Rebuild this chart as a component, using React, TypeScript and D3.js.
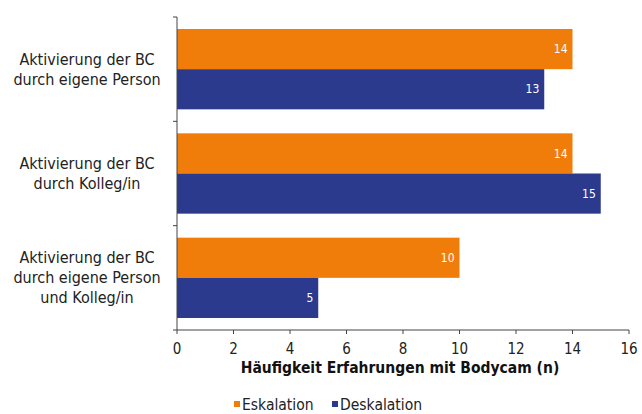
import React from "react";
import * as d3 from "d3";

const categories = [
  ["Aktivierung der BC", "durch eigene Person"],
  ["Aktivierung der BC", "durch Kolleg/in"],
  ["Aktivierung der BC", "durch eigene Person", "und Kolleg/in"],
];
const seriesNames = ["Eskalation", "Deskalation"];
const eskalation = [14, 14, 10];
const deskalation = [13, 15, 5];
const xTicks = [0, 2, 4, 6, 8, 10, 12, 14, 16];
const colors = ["#F07D0A", "#2C3A8E"];

const W = 642, H = 414;
const M = { left: 177, right: 13, top: 17, bottom: 84 };
const FONT = "'DejaVu Sans Condensed', 'Liberation Sans Narrow', sans-serif";

export default function App() {
  const x = d3.scaleLinear().domain([0, 16]).range([M.left, W - M.right]);
  const idx = categories.map((_, i) => String(i));
  const y = d3.scaleBand().domain(idx).range([M.top, H - M.bottom]).paddingInner(0.23).paddingOuter(0.115);
  const inner = d3.scaleBand().domain(seriesNames).range([0, y.bandwidth()]);
  const step = y.step();
  const bandTicks = d3.range(categories.length + 1).map((i) => M.top + i * step);
  const series = [eskalation, deskalation];
  const axisY = H - M.bottom;

  return (
    <svg width={W} height={H} style={{ position: "absolute", left: 0, top: 0, background: "#fff" }} fontFamily={FONT}>
      {series.map((vals, s) =>
        vals.map((v, i) => {
          const y0 = (y(String(i)) as number) + (inner(seriesNames[s]) as number);
          return (
            <g key={`${s}-${i}`}>
              <rect x={x(0)} y={y0} width={x(v) - x(0)} height={inner.bandwidth()} fill={colors[s]} />
              <text x={x(v) - 5} y={y0 + inner.bandwidth() / 2} dy="0.35em" textAnchor="end" fill="#fff" fontSize={12}>
                {v}
              </text>
            </g>
          );
        })
      )}
      {/* y axis */}
      <line x1={M.left} x2={M.left} y1={M.top} y2={axisY} stroke="#444" strokeWidth={1} />
      {bandTicks.map((t, i) => (
        <line key={i} x1={M.left - 4} x2={M.left} y1={t} y2={t} stroke="#444" />
      ))}
      {categories.map((lines, i) => {
        const cy = (y(String(i)) as number) + y.bandwidth() / 2;
        const lh = 20;
        const start = cy - ((lines.length - 1) * lh) / 2;
        return (
          <text key={i} x={87} textAnchor="middle" fontSize={16} fill="#222">
            {lines.map((l, j) => (
              <tspan key={j} x={87} y={start + j * lh} dy="0.35em">{l}</tspan>
            ))}
          </text>
        );
      })}
      {/* x axis */}
      <line x1={M.left} x2={W - M.right} y1={axisY} y2={axisY} stroke="#444" />
      {xTicks.map((t) => (
        <g key={t}>
          <line x1={x(t)} x2={x(t)} y1={axisY} y2={axisY + 4} stroke="#444" />
          <text x={x(t)} y={axisY + 19} dy="0.35em" textAnchor="middle" fontSize={15} fill="#222">{t}</text>
        </g>
      ))}
      <text x={400} y={axisY + 38} dy="0.35em" textAnchor="middle" fontSize={15.5} fontWeight="bold" fill="#111">
        Häufigkeit Erfahrungen mit Bodycam (n)
      </text>
      {/* legend */}
      {seriesNames.map((n, i) => {
        const lx = i === 0 ? 234 : 332;
        return (
          <g key={n}>
            <rect x={lx} y={401} width={6} height={6} fill={colors[i]} />
            <text x={lx + 8} y={405} dy="0.35em" fontSize={15.5} fill="#222">{n}</text>
          </g>
        );
      })}
    </svg>
  );
}
